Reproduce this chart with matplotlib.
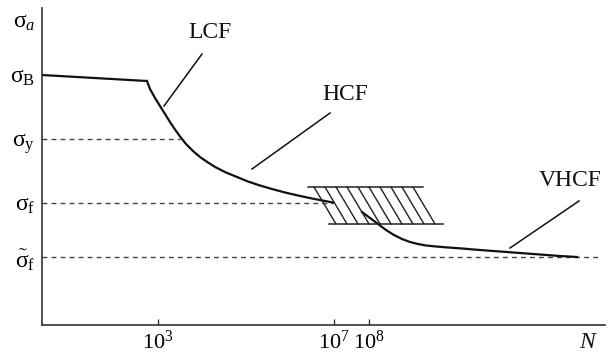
import matplotlib
matplotlib.use("Agg")
import matplotlib.pyplot as plt

plt.rcParams['font.family'] = ['Liberation Serif', 'DejaVu Serif']
plt.rcParams['mathtext.fontset'] = 'custom'
plt.rcParams['mathtext.rm'] = 'Liberation Serif'
plt.rcParams['mathtext.it'] = 'Liberation Serif:italic'

# schematic S-N curve, coordinates (pixel units)
plateau_x = [42, 147]
plateau_y = [75, 81]

hcf_x = [147, 150, 155, 160, 165, 170, 175, 180, 186, 193, 200, 208, 216, 226,
         237, 248, 260, 272, 285, 298, 312, 325, 333]
hcf_y = [81, 89, 98, 106, 114, 122, 129.5, 136.5, 144, 151, 157, 162.5, 167.5, 172.5,
         177, 181.5, 185.5, 189, 192.5, 195.5, 198.5, 201, 202.5]

vhcf_x = [362, 370, 378, 386, 394, 402, 410, 418, 426, 436, 448, 462, 480,
          500, 520, 540, 560, 577]
vhcf_y = [212, 218, 224, 230, 235, 239, 242, 244, 245.5, 246.5, 247.5, 248.5, 250,
          251.5, 253, 254.5, 256, 257]

# dashed reference levels: (y, x end)
levels_y = [139, 203, 257]
levels_end = [180, 333, 600]

# hatched transition band
band_top_y, band_bot_y = 187, 224
band_top_x = [308, 423]
band_bot_x = [329, 443]
hatch_top = [314, 325, 336, 347, 358, 369, 380, 391, 402, 413]
hatch_shift = 22

ytick_pos = [20, 75, 139, 203, 258]
ytick_lab = ['σ$_{\\mathit{a}}$', 'σ$_{\\mathrm{B}}$', 'σ$_{\\mathrm{y}}$',
             'σ$_{\\mathrm{f}}$', '$\\tilde{\\mathrm{σ}}_{\\mathrm{f}}$']
xtick_pos = [158, 334, 369]
xtick_lab = [r'$10^3$', r'$10^7$', r'$10^8$']

# labels and their leader lines: text pos, line start, line end
notes = ['LCF', 'HCF', 'VHCF']
note_xy = [(210, 33), (345, 95), (570, 181)]
lead_from = [(202, 54), (330, 113), (579, 201)]
lead_to = [(164, 106), (252, 169), (510, 248)]

fig = plt.figure(figsize=(6.08, 3.57), dpi=100)
ax = fig.add_axes([42/608, 1 - 325/357, (605 - 42)/608, (325 - 8)/357])
ax.set_xlim(42, 605)
ax.set_ylim(325, 8)

ink = '#111111'
ax.plot(plateau_x, plateau_y, color=ink, lw=1.6, solid_capstyle='butt')
ax.plot(hcf_x, hcf_y, color=ink, lw=1.6, solid_joinstyle='round')
ax.plot(vhcf_x, vhcf_y, color=ink, lw=1.6, solid_joinstyle='round')

for y, xe in zip(levels_y, levels_end):
    ax.plot([42, xe], [y, y], color='#444444', lw=1.0, dashes=(3.5, 3), zorder=1)

ax.plot(band_top_x, [band_top_y] * 2, color='#222222', lw=1.1)
ax.plot(band_bot_x, [band_bot_y] * 2, color='#222222', lw=1.1)
for xt in hatch_top:
    ax.plot([xt, xt + hatch_shift], [band_top_y, band_bot_y], color='#222222', lw=1.0)

for t, (tx, ty), (x0, y0), (x1, y1) in zip(notes, note_xy, lead_from, lead_to):
    ax.text(tx, ty, t, fontsize=17, ha='center', va='center', color=ink)
    ax.plot([x0, x1], [y0, y1], color=ink, lw=1.1)

ax.text(587, 342, 'N', fontsize=17, style='italic', ha='center', va='center',
        color=ink, clip_on=False)

for s in ['top', 'right']:
    ax.spines[s].set_visible(False)
for s in ['left', 'bottom']:
    ax.spines[s].set_color('#333333')
    ax.spines[s].set_linewidth(1.2)

ax.set_yticks(ytick_pos)
ax.set_yticklabels(ytick_lab, fontsize=17)
ax.tick_params(axis='y', length=0, pad=5)
ax.set_xticks(xtick_pos)
ax.set_xticklabels(xtick_lab, fontsize=16)
ax.tick_params(axis='x', direction='in', length=4, width=1.0, color='#333333', pad=4)

fig.savefig('out.png', dpi=100)
